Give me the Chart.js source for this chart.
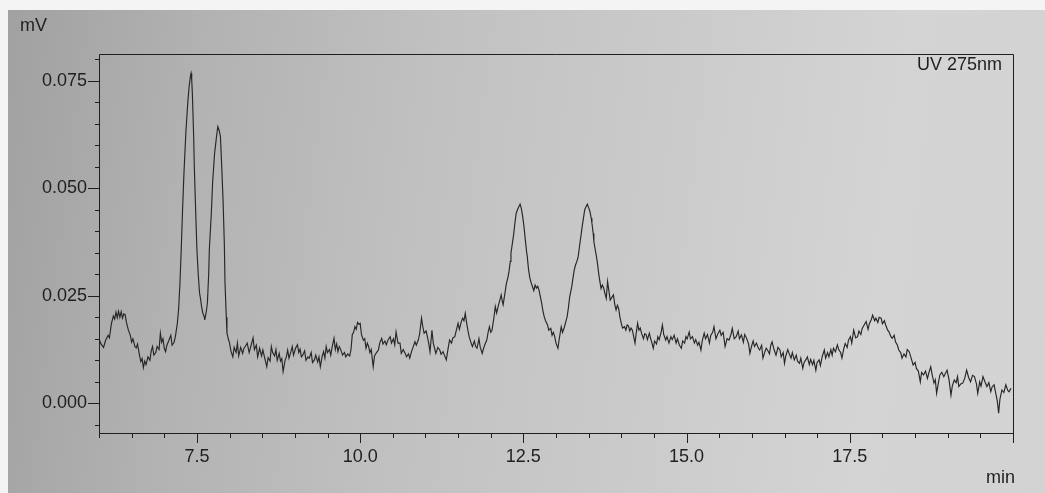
<!DOCTYPE html>
<html>
<head>
<meta charset="utf-8">
<title>UV 275nm chromatogram</title>
<script src="https://cdn.jsdelivr.net/npm/chart.js@4.4.1/dist/chart.umd.min.js"></script>
<style>
  html, body { margin: 0; padding: 0; background: #f4f4f4; overflow: hidden; }
  #sheet {
    position: absolute; left: 8px; top: 10px; width: 1037px; height: 483px;
    background: linear-gradient(97deg, #a1a1a1 0%, #b2b2b2 18%, #c1c1c1 40%, #cacaca 60%, #d4d4d4 82%, #d3d3d3 100%);
  }
  #wrap { position: absolute; left: 0; top: 0; width: 1045px; height: 493px; }
</style>
</head>
<body>
<div id="sheet"></div>
<div id="wrap"><canvas id="chrom" width="1045" height="493"></canvas></div>
<script>
// Retention time (min) of each recorded sample
const retentionTime = [
  6.00, 6.03, 6.07, 6.10, 6.14, 6.16, 6.19, 6.22, 6.24, 6.26, 6.28, 6.30, 6.32, 6.34, 6.36, 6.38, 6.40, 6.42, 6.45, 6.48,
  6.50, 6.52, 6.55, 6.57, 6.59, 6.62, 6.64, 6.66, 6.68, 6.70, 6.72, 6.75, 6.78, 6.80, 6.82, 6.84, 6.87, 6.89, 6.92, 6.94,
  6.96, 6.98, 7.00, 7.02, 7.04, 7.07, 7.10, 7.12, 7.15, 7.17, 7.20, 7.22,
  7.24, 7.26, 7.28, 7.30, 7.33, 7.36, 7.38, 7.40, 7.41, 7.42, 7.43, 7.45, 7.46, 7.48, 7.50, 7.52, 7.54, 7.56, 7.57, 7.59,
  7.61, 7.62, 7.64, 7.66, 7.68, 7.69, 7.72, 7.74, 7.77, 7.80, 7.82, 7.84, 7.86, 7.88, 7.90, 7.92, 7.93, 7.95, 7.96, 7.98,
  8.00, 8.02, 8.05, 8.07, 8.10, 8.12, 8.14, 8.17, 8.20, 8.22, 8.24, 8.27, 8.30, 8.33, 8.36, 8.38, 8.41, 8.43, 8.46, 8.49,
  8.51, 8.54, 8.57, 8.59, 8.62, 8.64, 8.66, 8.69, 8.71, 8.73, 8.76, 8.78, 8.80, 8.82, 8.85, 8.87, 8.89, 8.91, 8.94, 8.96,
  8.98, 9.01, 9.04, 9.06, 9.08, 9.10, 9.12, 9.15, 9.17, 9.20, 9.22, 9.25, 9.27, 9.30, 9.32, 9.35, 9.37, 9.39, 9.42, 9.44,
  9.46, 9.48, 9.50, 9.53, 9.55, 9.57, 9.60, 9.62, 9.64, 9.66, 9.68, 9.70, 9.73, 9.76, 9.78, 9.81, 9.84, 9.86, 9.88, 9.90,
  9.92, 9.94, 9.96, 9.98, 10.00, 10.02, 10.05, 10.07, 10.09, 10.11, 10.13, 10.15, 10.17, 10.20, 10.22, 10.25, 10.28, 10.30, 10.33, 10.35,
  10.38, 10.40, 10.43, 10.46, 10.48, 10.51, 10.53, 10.55, 10.58, 10.61, 10.63, 10.66, 10.69, 10.71, 10.74, 10.76, 10.79, 10.81, 10.84, 10.86,
  10.89, 10.91, 10.94, 10.96, 10.98, 11.01, 11.03, 11.05, 11.07, 11.10, 11.12, 11.14, 11.16, 11.19, 11.22, 11.24, 11.27, 11.29, 11.32, 11.35,
  11.37, 11.40, 11.42, 11.45, 11.47, 11.50, 11.52, 11.55, 11.57, 11.59, 11.61, 11.63, 11.65, 11.67, 11.70, 11.72, 11.75, 11.77, 11.79, 11.82,
  11.84, 11.87, 11.89, 11.92, 11.94, 11.96, 11.98, 12.00, 12.02, 12.05, 12.07, 12.09, 12.12, 12.14, 12.16, 12.18, 12.19, 12.22, 12.24, 12.26,
  12.28, 12.30, 12.31, 12.33, 12.35, 12.37, 12.39, 12.41, 12.43, 12.45, 12.47, 12.49, 12.51, 12.53, 12.55, 12.56, 12.58, 12.60, 12.62, 12.64,
  12.66, 12.68, 12.70, 12.72, 12.74, 12.76, 12.78, 12.80, 12.82, 12.84, 12.87, 12.89, 12.92, 12.94, 12.96, 12.98, 13.00, 13.03, 13.05, 13.08,
  13.10, 13.13, 13.15, 13.17, 13.19, 13.21, 13.24, 13.26, 13.28, 13.30, 13.32, 13.34, 13.36, 13.38, 13.40, 13.42, 13.44, 13.46, 13.48, 13.50,
  13.52, 13.54, 13.55, 13.57, 13.58, 13.60, 13.62, 13.64, 13.65, 13.67, 13.69, 13.71, 13.73, 13.75, 13.77, 13.79, 13.81, 13.83, 13.85, 13.88,
  13.90, 13.92, 13.94, 13.96, 13.98, 14.00, 14.02, 14.05, 14.07, 14.09, 14.11, 14.13, 14.15, 14.17, 14.19, 14.21, 14.23, 14.25, 14.27, 14.29,
  14.31, 14.34, 14.36, 14.38, 14.40, 14.43, 14.45, 14.47, 14.49, 14.51, 14.54, 14.56, 14.58, 14.61, 14.63, 14.65, 14.68, 14.70, 14.73, 14.76,
  14.78, 14.81, 14.84, 14.86, 14.89, 14.92, 14.94, 14.97, 14.99, 15.01, 15.04, 15.06, 15.09, 15.12, 15.14, 15.17, 15.19, 15.22, 15.24, 15.27,
  15.29, 15.32, 15.35, 15.37, 15.40, 15.42, 15.45, 15.48, 15.51, 15.53, 15.56, 15.59, 15.62, 15.65, 15.68, 15.70, 15.73, 15.76, 15.79, 15.81,
  15.84, 15.87, 15.89, 15.92, 15.95, 15.97, 16.00, 16.02, 16.04, 16.07, 16.10, 16.12, 16.15, 16.17, 16.20, 16.22, 16.24, 16.27, 16.29, 16.31,
  16.34, 16.37, 16.40, 16.43, 16.45, 16.48, 16.50, 16.52, 16.55, 16.57, 16.60, 16.62, 16.65, 16.68, 16.70, 16.73, 16.75, 16.78, 16.80, 16.83,
  16.85, 16.88, 16.90, 16.93, 16.95, 16.98, 17.00, 17.03, 17.05, 17.08, 17.11, 17.13, 17.16, 17.18, 17.21, 17.23, 17.25, 17.28, 17.31, 17.33,
  17.36, 17.38, 17.41, 17.43, 17.46, 17.48, 17.51, 17.53, 17.56, 17.59, 17.62, 17.64, 17.67, 17.69, 17.72, 17.75, 17.78, 17.80, 17.83, 17.85,
  17.88, 17.90, 17.93, 17.95, 17.98, 18.00, 18.03, 18.05, 18.08, 18.10, 18.13, 18.15, 18.18, 18.20, 18.23, 18.25, 18.28, 18.30, 18.33, 18.36,
  18.38, 18.41, 18.44, 18.47, 18.50, 18.52, 18.55, 18.58, 18.60, 18.63, 18.66, 18.69, 18.71, 18.74, 18.76, 18.79, 18.81, 18.83, 18.86, 18.88,
  18.91, 18.94, 18.96, 18.99, 19.02, 19.05, 19.07, 19.10, 19.13, 19.15, 19.17, 19.20, 19.23, 19.26, 19.29, 19.32, 19.35, 19.38, 19.41, 19.44,
  19.46, 19.49, 19.51, 19.54, 19.57, 19.60, 19.63, 19.66, 19.68, 19.71, 19.74, 19.76, 19.78, 19.80, 19.83, 19.86, 19.89, 19.92, 19.94, 19.97
];

// Detector response (mV) at each retention time
const signal = [
  0.0150, 0.0138, 0.0130, 0.0146, 0.0158, 0.0152, 0.0185, 0.0203, 0.0196, 0.0212, 0.0199, 0.0214, 0.0200, 0.0213, 0.0198, 0.0208, 0.0206, 0.0188, 0.0170, 0.0158,
  0.0142, 0.0150, 0.0132, 0.0129, 0.0138, 0.0112, 0.0097, 0.0104, 0.0083, 0.0098, 0.0090, 0.0108, 0.0100, 0.0122, 0.0132, 0.0112, 0.0118, 0.0132, 0.0125, 0.0163,
  0.0142, 0.0150, 0.0128, 0.0120, 0.0135, 0.0146, 0.0158, 0.0135, 0.0142, 0.0155, 0.0186, 0.0220,
  0.0279, 0.0360, 0.0450, 0.0530, 0.0628, 0.0700, 0.0736, 0.0760, 0.0767, 0.0752, 0.0721, 0.0620, 0.0550, 0.0450, 0.0357, 0.0300, 0.0257, 0.0238, 0.0226, 0.0210,
  0.0202, 0.0194, 0.0210, 0.0232, 0.0300, 0.0357, 0.0440, 0.0512, 0.0580, 0.0620, 0.0643, 0.0635, 0.0620, 0.0550, 0.0473, 0.0370, 0.0280, 0.0200, 0.0163, 0.0150,
  0.0140, 0.0122, 0.0108, 0.0130, 0.0118, 0.0140, 0.0110, 0.0130, 0.0116, 0.0128, 0.0132, 0.0140, 0.0118, 0.0135, 0.0152, 0.0125, 0.0135, 0.0108, 0.0128, 0.0110,
  0.0124, 0.0104, 0.0085, 0.0106, 0.0098, 0.0132, 0.0118, 0.0110, 0.0125, 0.0100, 0.0116, 0.0098, 0.0104, 0.0074, 0.0100, 0.0108, 0.0124, 0.0105, 0.0120, 0.0132,
  0.0112, 0.0128, 0.0136, 0.0118, 0.0126, 0.0108, 0.0112, 0.0122, 0.0100, 0.0108, 0.0105, 0.0118, 0.0095, 0.0101, 0.0112, 0.0096, 0.0108, 0.0085, 0.0110, 0.0120,
  0.0105, 0.0132, 0.0118, 0.0125, 0.0112, 0.0130, 0.0151, 0.0125, 0.0138, 0.0120, 0.0132, 0.0126, 0.0112, 0.0118, 0.0108, 0.0115, 0.0110, 0.0125, 0.0160, 0.0165,
  0.0178, 0.0172, 0.0188, 0.0184, 0.0186, 0.0160, 0.0147, 0.0150, 0.0128, 0.0140, 0.0132, 0.0118, 0.0125, 0.0085, 0.0110, 0.0118, 0.0124, 0.0140, 0.0151, 0.0138,
  0.0145, 0.0136, 0.0148, 0.0155, 0.0140, 0.0150, 0.0136, 0.0166, 0.0140, 0.0140, 0.0116, 0.0125, 0.0116, 0.0108, 0.0115, 0.0105, 0.0122, 0.0130, 0.0143, 0.0135,
  0.0147, 0.0160, 0.0198, 0.0178, 0.0163, 0.0168, 0.0155, 0.0140, 0.0120, 0.0170, 0.0140, 0.0128, 0.0116, 0.0130, 0.0124, 0.0114, 0.0120, 0.0112, 0.0101, 0.0130,
  0.0147, 0.0140, 0.0152, 0.0155, 0.0168, 0.0186, 0.0172, 0.0190, 0.0198, 0.0192, 0.0209, 0.0188, 0.0170, 0.0155, 0.0140, 0.0132, 0.0145, 0.0132, 0.0128, 0.0150,
  0.0130, 0.0116, 0.0128, 0.0140, 0.0147, 0.0165, 0.0178, 0.0165, 0.0170, 0.0200, 0.0225, 0.0210, 0.0229, 0.0240, 0.0252, 0.0235, 0.0229, 0.0258, 0.0279, 0.0290,
  0.0306, 0.0330, 0.0349, 0.0370, 0.0391, 0.0418, 0.0442, 0.0450, 0.0457, 0.0463, 0.0452, 0.0434, 0.0410, 0.0380, 0.0352, 0.0341, 0.0310, 0.0291, 0.0280, 0.0271,
  0.0262, 0.0275, 0.0268, 0.0272, 0.0263, 0.0248, 0.0233, 0.0215, 0.0201, 0.0192, 0.0182, 0.0170, 0.0174, 0.0158, 0.0165, 0.0155, 0.0140, 0.0128, 0.0150, 0.0178,
  0.0165, 0.0178, 0.0190, 0.0201, 0.0222, 0.0248, 0.0270, 0.0291, 0.0310, 0.0322, 0.0330, 0.0341, 0.0365, 0.0387, 0.0410, 0.0430, 0.0450, 0.0457, 0.0463, 0.0455,
  0.0446, 0.0430, 0.0419, 0.0395, 0.0376, 0.0358, 0.0341, 0.0320, 0.0306, 0.0285, 0.0267, 0.0275, 0.0268, 0.0255, 0.0244, 0.0283, 0.0262, 0.0240, 0.0245, 0.0252,
  0.0230, 0.0217, 0.0228, 0.0220, 0.0200, 0.0186, 0.0175, 0.0178, 0.0170, 0.0182, 0.0180, 0.0168, 0.0175, 0.0170, 0.0155, 0.0140, 0.0165, 0.0186, 0.0170, 0.0175,
  0.0163, 0.0150, 0.0162, 0.0160, 0.0148, 0.0163, 0.0150, 0.0140, 0.0128, 0.0145, 0.0138, 0.0155, 0.0148, 0.0165, 0.0182, 0.0160, 0.0147, 0.0155, 0.0140, 0.0155,
  0.0148, 0.0158, 0.0140, 0.0150, 0.0135, 0.0128, 0.0145, 0.0140, 0.0155, 0.0150, 0.0166, 0.0150, 0.0155, 0.0140, 0.0148, 0.0135, 0.0142, 0.0124, 0.0145, 0.0163,
  0.0150, 0.0160, 0.0140, 0.0158, 0.0165, 0.0178, 0.0150, 0.0162, 0.0170, 0.0158, 0.0165, 0.0132, 0.0150, 0.0147, 0.0160, 0.0174, 0.0150, 0.0155, 0.0168, 0.0150,
  0.0159, 0.0142, 0.0160, 0.0151, 0.0138, 0.0116, 0.0135, 0.0145, 0.0132, 0.0140, 0.0128, 0.0124, 0.0135, 0.0105, 0.0120, 0.0128, 0.0124, 0.0115, 0.0135, 0.0143,
  0.0125, 0.0112, 0.0130, 0.0124, 0.0108, 0.0118, 0.0093, 0.0110, 0.0125, 0.0116, 0.0105, 0.0118, 0.0101, 0.0112, 0.0098, 0.0093, 0.0105, 0.0081, 0.0095, 0.0102,
  0.0108, 0.0090, 0.0102, 0.0090, 0.0100, 0.0077, 0.0095, 0.0101, 0.0088, 0.0110, 0.0124, 0.0105, 0.0118, 0.0108, 0.0125, 0.0112, 0.0128, 0.0120, 0.0136, 0.0125,
  0.0118, 0.0105, 0.0128, 0.0139, 0.0130, 0.0147, 0.0155, 0.0140, 0.0170, 0.0152, 0.0155, 0.0168, 0.0160, 0.0174, 0.0182, 0.0190, 0.0172, 0.0185, 0.0195, 0.0205,
  0.0192, 0.0198, 0.0188, 0.0200, 0.0198, 0.0185, 0.0192, 0.0182, 0.0170, 0.0166, 0.0155, 0.0151, 0.0158, 0.0143, 0.0135, 0.0124, 0.0118, 0.0105, 0.0115, 0.0108,
  0.0125, 0.0120, 0.0105, 0.0089, 0.0095, 0.0081, 0.0075, 0.0050, 0.0072, 0.0066, 0.0075, 0.0058, 0.0070, 0.0085, 0.0068, 0.0047, 0.0055, 0.0023, 0.0050, 0.0066,
  0.0072, 0.0062, 0.0068, 0.0077, 0.0055, 0.0019, 0.0040, 0.0054, 0.0048, 0.0062, 0.0039, 0.0045, 0.0047, 0.0058, 0.0077, 0.0060, 0.0050, 0.0065, 0.0062, 0.0045,
  0.0023, 0.0050, 0.0040, 0.0062, 0.0050, 0.0039, 0.0048, 0.0027, 0.0038, 0.0043, 0.0020, 0.0005, -0.0023, 0.0010, 0.0031, 0.0025, 0.0043, 0.0030, 0.0027, 0.0035
];

// Axis ticks and labels
const xMajorTicks = [7.5, 10.0, 12.5, 15.0, 17.5, 20.0];
const xTickLabels = ['7.5', '10.0', '12.5', '15.0', '17.5', ''];
const xMinorStep = 0.5;
const yMajorTicks = [0.000, 0.025, 0.050, 0.075];
const yTickLabels = ['0.000', '0.025', '0.050', '0.075'];
const yMinorStep = 0.005;

const xRange = [6.0, 20.0];
const yRange = [-0.0069, 0.0812];

const yUnit = 'mV';
const xUnit = 'min';
const channelName = 'UV 275nm';

const ink = '#1f1f1f';
const traceColor = '#262626';
const fontFamily = '"Liberation Sans", Arial, sans-serif';

function labelFor(value, majors, labels) {
  const i = majors.findIndex(m => Math.abs(m - value) < 1e-9);
  return i >= 0 ? labels[i] : '';
}

function stepTicks(min, max, step) {
  const out = [];
  for (let k = Math.ceil(min / step - 1e-9); k * step <= max + 1e-9; k++) {
    out.push({ value: Math.round(k * step * 1e6) / 1e6 });
  }
  return out;
}

// Frame, tick marks and annotation texts
const framePlugin = {
  id: 'frame',
  afterDraw(chart) {
    const { ctx, chartArea: a, scales: { x, y } } = chart;
    ctx.save();
    ctx.strokeStyle = ink;
    ctx.lineWidth = 1;
    ctx.beginPath();
    ctx.rect(Math.round(a.left) + 0.5, Math.round(a.top) + 0.5,
             Math.round(a.right - a.left), Math.round(a.bottom - a.top));
    x.ticks.forEach(t => {
      const px = Math.round(x.getPixelForValue(t.value)) + 0.5;
      const major = xMajorTicks.some(m => Math.abs(m - t.value) < 1e-9);
      ctx.moveTo(px, Math.round(a.bottom));
      ctx.lineTo(px, Math.round(a.bottom) + (major ? 10 : 5));
    });
    y.ticks.forEach(t => {
      const py = Math.round(y.getPixelForValue(t.value)) + 0.5;
      const major = yMajorTicks.some(m => Math.abs(m - t.value) < 1e-9);
      ctx.moveTo(Math.round(a.left), py);
      ctx.lineTo(Math.round(a.left) - (major ? 11 : 4), py);
    });
    ctx.stroke();

    ctx.fillStyle = ink;
    ctx.font = '18px ' + fontFamily;
    ctx.textBaseline = 'alphabetic';
    ctx.textAlign = 'left';
    ctx.fillText(yUnit, 20, 31);
    ctx.textAlign = 'right';
    ctx.fillText(xUnit, 1015, 483);
    ctx.fillText(channelName, a.right - 11, a.top + 16);
    ctx.restore();
  }
};

new Chart(document.getElementById('chrom'), {
  type: 'line',
  data: {
    datasets: [{
      label: channelName,
      data: retentionTime.map((t, i) => ({ x: t, y: signal[i] })),
      borderColor: traceColor,
      borderWidth: 1.15,
      pointRadius: 0,
      tension: 0,
      fill: false
    }]
  },
  options: {
    responsive: false,
    animation: false,
    layout: { padding: { top: 54, right: 32, left: 0, bottom: 0 } },
    plugins: { legend: { display: false }, tooltip: { enabled: false } },
    scales: {
      x: {
        type: 'linear',
        min: xRange[0],
        max: xRange[1],
        afterFit: s => { s.height = 60; },
        afterBuildTicks: s => { s.ticks = stepTicks(xRange[0], xRange[1], xMinorStep); },
        grid: { display: false, drawTicks: false },
        border: { display: false },
        ticks: {
          autoSkip: false, maxRotation: 0, padding: 13, color: ink,
          font: { family: fontFamily, size: 18 },
          callback: v => labelFor(v, xMajorTicks, xTickLabels)
        }
      },
      y: {
        type: 'linear',
        min: yRange[0],
        max: yRange[1],
        afterFit: s => { s.width = 99; },
        afterBuildTicks: s => { s.ticks = stepTicks(yRange[0], yRange[1], yMinorStep); },
        grid: { display: false, drawTicks: false },
        border: { display: false },
        ticks: {
          autoSkip: false, padding: 12, color: ink,
          font: { family: fontFamily, size: 18 },
          callback: v => labelFor(v, yMajorTicks, yTickLabels)
        }
      }
    }
  },
  plugins: [framePlugin]
});
</script>
</body>
</html>
